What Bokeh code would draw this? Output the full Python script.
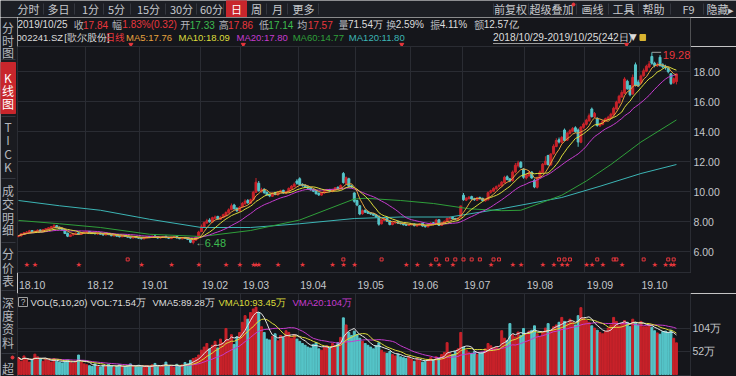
import numpy as np
import pandas as pd
from bokeh.plotting import figure
from bokeh.models import ColumnDataSource, Range1d, FixedTicker, NumeralTickFormatter
from bokeh.layouts import column, row
from bokeh.embed import file_html
from bokeh.resources import INLINE

# ======================= data =======================
stock_code = "002241.SZ"
stock_name = "[歌尔股份]"
start_date = "2018/10/29"
end_date = "2019/10/25"
avg_price = 17.57
turnover_rate = "2.59%"
amount = "12.57亿"

month_labels = ["18.10", "18.12", "19.01", "19.02", "19.03", "19.04", "19.05",
                "19.06", "19.07", "19.08", "19.09", "19.10"]
month_starts = [0, 25, 45, 67, 82, 103, 124, 144, 163, 186, 208, 228]

opens = [
    7.00, 7.04, 7.16,
    7.26, 7.30, 7.40, 7.30, 7.35, 7.44, 7.34, 7.44, 7.50, 7.56, 7.64, 7.72, 7.62, 7.55, 7.48, 7.22, 7.00, 7.10, 7.16, 7.24, 7.14, 7.24,
    7.28, 7.34, 7.26, 7.22, 7.16, 7.24, 7.16, 7.10, 7.20, 7.14, 7.04, 7.10, 7.04, 6.98, 7.06, 7.02, 6.96, 6.90, 7.00, 6.94,
    6.90, 6.84, 6.92, 7.00, 6.94, 7.04, 6.98, 6.90, 6.94, 7.02, 6.94, 6.86, 6.94, 7.00, 6.92, 6.84, 6.94, 6.90, 6.82, 6.60, 6.76, 6.98,
    7.32, 7.62, 7.90, 8.10, 7.96, 8.22, 8.34, 8.15, 8.26, 8.40, 8.58, 8.80, 9.10, 8.88, 8.70,
    8.98, 9.18, 9.40, 9.22, 9.45, 9.95, 10.55, 10.00, 10.15, 9.95, 9.80, 9.68, 9.92, 9.78, 9.96, 10.08, 9.88, 9.98, 10.18, 10.32, 10.70,
    10.85, 10.48, 10.42, 10.32, 10.24, 10.14, 10.05, 9.88, 9.76, 9.90, 10.04, 10.12, 10.00, 10.10, 10.28, 10.18, 11.20, 10.55, 10.85, 10.38, 9.90,
    9.40, 9.05, 8.52, 8.75, 8.65, 8.58, 8.52, 8.45, 8.35, 7.85, 8.08, 8.22, 8.05, 7.80, 7.90, 7.98, 7.90, 7.86, 7.80, 7.74,
    7.78, 7.84, 7.70, 7.76, 7.88, 7.72, 7.64, 7.76, 7.92, 7.86, 8.12, 7.74, 7.88, 8.00, 8.18, 8.28, 8.20, 8.14, 8.30,
    9.75, 9.42, 9.52, 9.66, 9.52, 9.42, 9.60, 9.55, 9.38, 9.45, 9.95, 10.02, 10.18, 10.35, 10.38, 10.60, 10.98, 10.84, 10.72, 11.30, 11.72, 11.95, 11.50,
    10.90, 11.05, 11.30, 10.75, 10.28, 10.95, 11.28, 11.80, 12.40, 11.78, 12.52, 13.00, 13.45, 13.28, 14.10, 13.42, 13.88, 14.02, 14.25, 14.10, 13.28, 14.28,
    14.48, 14.72, 15.50, 14.98, 14.85, 14.38, 14.48, 14.68, 14.82, 14.92, 15.12, 15.50, 15.92, 16.30, 16.55, 17.35, 17.05, 16.50, 18.45, 17.30,
    17.25, 17.72, 18.02, 18.30, 19.00, 18.55, 18.38, 18.95, 18.45, 18.35, 18.22, 17.85, 17.25, 17.33,
]
highs = [
    7.10, 7.22, 7.30,
    7.36, 7.44, 7.42, 7.40, 7.48, 7.46, 7.50, 7.56, 7.62, 7.70, 7.82, 7.76, 7.66, 7.58, 7.50, 7.26, 7.14, 7.22, 7.28, 7.28, 7.28, 7.34,
    7.38, 7.36, 7.30, 7.25, 7.26, 7.26, 7.20, 7.22, 7.22, 7.16, 7.12, 7.12, 7.06, 7.08, 7.08, 7.04, 6.98, 7.02, 7.02, 6.96,
    6.94, 6.96, 7.02, 7.04, 7.06, 7.08, 7.00, 6.98, 7.04, 7.04, 6.98, 6.98, 7.02, 7.02, 6.94, 6.95, 6.96, 6.92, 6.84, 6.80, 7.02, 7.38,
    7.80, 8.00, 8.18, 8.22, 8.32, 8.40, 8.38, 8.35, 8.52, 8.68, 8.88, 9.20, 9.18, 8.95, 9.02,
    9.30, 9.48, 9.50, 9.52, 10.05, 10.90, 10.70, 10.25, 10.22, 10.00, 9.86, 9.95, 9.98, 10.02, 10.12, 10.12, 10.05, 10.28, 10.42, 10.60, 10.82,
    10.95, 10.55, 10.48, 10.38, 10.30, 10.20, 10.10, 9.94, 9.98, 10.10, 10.18, 10.18, 10.18, 10.30, 10.34, 10.48, 11.30, 11.00, 10.92, 10.45, 9.95,
    9.45, 9.10, 8.80, 8.80, 8.70, 8.62, 8.56, 8.50, 8.40, 8.15, 8.28, 8.26, 8.08, 7.96, 8.00, 8.02, 7.94, 7.90, 7.84, 7.84,
    7.88, 7.86, 7.82, 7.90, 7.92, 7.76, 7.82, 7.95, 7.96, 8.18, 8.15, 7.94, 8.06, 8.26, 8.32, 8.32, 8.24, 8.26, 9.04,
    9.90, 9.62, 9.70, 9.72, 9.58, 9.64, 9.66, 9.58, 9.55, 10.00, 10.12, 10.28, 10.40, 10.52, 10.70, 11.05, 11.08, 10.90, 11.40, 11.90, 12.05, 12.02, 11.55,
    11.20, 11.40, 11.35, 10.85, 11.00, 11.40, 11.90, 12.35, 12.45, 12.55, 13.15, 13.55, 13.60, 13.70, 14.20, 13.95, 14.15, 14.30, 14.35, 14.20, 14.35, 14.60,
    14.85, 15.20, 15.60, 15.30, 14.95, 14.60, 14.78, 14.92, 15.05, 15.25, 15.65, 16.05, 16.45, 16.75, 17.62, 17.45, 17.10, 17.80, 18.60, 17.45,
    17.80, 18.20, 18.45, 18.70, 19.28, 18.65, 18.60, 19.10, 18.55, 18.45, 18.30, 17.90, 17.60, 17.86,
]
lows = [
    6.95, 7.00, 7.12,
    7.22, 7.28, 7.26, 7.26, 7.32, 7.32, 7.30, 7.40, 7.46, 7.52, 7.60, 7.56, 7.48, 7.40, 7.16, 6.96, 6.96, 7.06, 7.12, 7.12, 7.10, 7.20,
    7.24, 7.22, 7.16, 7.14, 7.12, 7.12, 7.06, 7.08, 7.10, 7.02, 7.00, 7.00, 6.94, 6.96, 6.98, 6.92, 6.86, 6.88, 6.90, 6.84,
    6.80, 6.82, 6.88, 6.92, 6.90, 6.94, 6.86, 6.86, 6.92, 6.90, 6.84, 6.84, 6.90, 6.88, 6.82, 6.82, 6.84, 6.76, 6.56, 6.48, 6.72, 6.96,
    7.30, 7.58, 7.85, 7.92, 7.94, 8.16, 8.12, 8.10, 8.22, 8.36, 8.52, 8.75, 8.80, 8.62, 8.66,
    8.92, 9.12, 9.18, 9.18, 9.40, 9.90, 10.00, 9.92, 9.85, 9.72, 9.62, 9.64, 9.75, 9.72, 9.90, 9.85, 9.82, 9.94, 10.12, 10.28, 10.45,
    10.38, 10.32, 10.25, 10.15, 10.06, 9.96, 9.80, 9.70, 9.72, 9.86, 10.00, 9.96, 9.95, 10.05, 10.12, 10.12, 10.52, 10.50, 10.25, 10.22, 9.25,
    9.02, 8.42, 8.45, 8.58, 8.50, 8.44, 8.38, 8.26, 7.72, 7.80, 8.02, 7.98, 7.74, 7.75, 7.86, 7.84, 7.80, 7.74, 7.70, 7.70,
    7.74, 7.68, 7.66, 7.72, 7.66, 7.60, 7.62, 7.72, 7.80, 7.84, 7.70, 7.70, 7.85, 7.98, 8.14, 8.14, 8.10, 8.10, 8.28,
    9.38, 9.36, 9.48, 9.45, 9.38, 9.38, 9.46, 9.34, 9.32, 9.40, 9.85, 9.96, 10.12, 10.26, 10.32, 10.55, 10.74, 10.62, 10.66, 11.22, 11.60, 11.55, 10.85,
    10.80, 10.98, 10.85, 10.22, 10.20, 10.90, 11.22, 11.75, 11.72, 11.70, 12.45, 12.95, 13.20, 13.20, 13.35, 13.38, 13.80, 13.95, 13.92, 12.98, 13.22, 14.18,
    14.40, 14.65, 14.92, 14.90, 14.32, 14.30, 14.42, 14.62, 14.75, 14.85, 15.05, 15.45, 15.85, 16.25, 16.50, 16.78, 16.35, 16.45, 17.00, 16.98,
    17.15, 17.65, 17.95, 18.22, 18.45, 18.28, 18.30, 18.32, 18.20, 18.12, 17.88, 17.10, 17.18, 17.14,
]
closes = [
    7.05, 7.18, 7.25,
    7.30, 7.38, 7.30, 7.36, 7.42, 7.35, 7.45, 7.52, 7.58, 7.65, 7.72, 7.60, 7.52, 7.45, 7.20, 7.02, 7.10, 7.18, 7.22, 7.15, 7.25, 7.28,
    7.32, 7.25, 7.20, 7.18, 7.22, 7.15, 7.10, 7.18, 7.12, 7.05, 7.08, 7.02, 6.98, 7.05, 7.00, 6.95, 6.90, 6.98, 6.92, 6.88,
    6.85, 6.92, 6.98, 6.95, 7.02, 6.98, 6.90, 6.95, 7.00, 6.92, 6.88, 6.95, 6.98, 6.90, 6.85, 6.92, 6.88, 6.80, 6.62, 6.75, 6.98, 7.30,
    7.65, 7.92, 8.05, 7.98, 8.25, 8.30, 8.18, 8.28, 8.45, 8.60, 8.78, 9.05, 8.85, 8.72, 8.95,
    9.20, 9.35, 9.25, 9.45, 9.95, 10.62, 10.05, 10.12, 9.92, 9.78, 9.70, 9.88, 9.80, 9.95, 10.05, 9.90, 9.98, 10.20, 10.35, 10.48, 10.55,
    10.45, 10.40, 10.30, 10.22, 10.12, 10.02, 9.85, 9.78, 9.92, 10.05, 10.10, 10.02, 10.12, 10.25, 10.20, 10.40, 10.60, 10.92, 10.35, 10.30, 9.35,
    9.10, 8.50, 8.72, 8.62, 8.55, 8.50, 8.42, 8.30, 7.82, 8.10, 8.20, 8.02, 7.80, 7.92, 7.95, 7.88, 7.85, 7.78, 7.75, 7.80,
    7.82, 7.72, 7.78, 7.85, 7.70, 7.65, 7.78, 7.90, 7.85, 8.10, 7.75, 7.90, 8.02, 8.20, 8.25, 8.18, 8.15, 8.22, 9.04,
    9.45, 9.55, 9.62, 9.50, 9.45, 9.58, 9.52, 9.40, 9.48, 9.92, 10.05, 10.20, 10.32, 10.40, 10.62, 10.95, 10.80, 10.70, 11.30, 11.75, 11.90, 11.62, 10.95,
    11.10, 11.28, 10.90, 10.30, 10.92, 11.30, 11.82, 12.02, 11.80, 12.50, 13.02, 13.40, 13.30, 13.60, 13.40, 13.90, 14.05, 14.20, 14.00, 13.30, 14.30, 14.50,
    14.75, 15.05, 15.00, 15.20, 14.40, 14.50, 14.70, 14.85, 14.95, 15.15, 15.55, 15.95, 16.35, 16.60, 17.50, 16.85, 16.45, 17.60, 17.10, 17.05,
    17.70, 18.05, 18.35, 18.50, 18.55, 18.40, 18.45, 18.40, 18.30, 18.25, 17.99, 17.20, 17.52, 17.84,
]
# volume in 万
volumes = [
    38, 30, 42,
    35, 28, 33, 46, 40, 36, 30, 34, 32, 28, 36, 30, 28, 26, 30, 33, 28, 25, 30, 44, 28, 24,
    22, 20, 18, 24, 19, 17, 21, 18, 23, 20, 16, 19, 22, 18, 17, 20, 24, 19, 18, 21,
    18, 16, 20, 17, 22, 25, 19, 17, 21, 28, 20, 18, 16, 23, 19, 22, 27, 24, 32, 36, 38, 44,
    55, 62, 70, 58, 66, 75, 60, 80, 72, 104, 78, 90, 68, 85, 95,
    118, 133, 125, 140, 148, 152, 140, 108, 95, 80, 78, 86, 92, 76, 88, 84, 99, 95, 82, 90, 80,
    75, 70, 66, 62, 60, 68, 72, 58, 55, 62, 65, 60, 70, 66, 72, 84, 128, 112, 95, 88, 98,
    90, 82, 75, 70, 66, 62, 58, 65, 72, 55, 50, 48, 52, 45, 42, 46, 40, 38, 36, 40,
    34, 30, 36, 32, 28, 30, 34, 38, 33, 40, 36, 45, 50, 72, 48, 45, 52, 58, 95,
    62, 55, 50, 48, 52, 45, 48, 50, 58, 70, 65, 60, 62, 58, 99, 82, 77, 115, 90, 85, 96, 88, 104,
    92, 98, 100, 110, 92, 86, 95, 105, 115, 100, 108, 112, 118, 129, 120, 115, 125, 118, 112, 133, 151, 127,
    122, 118, 110, 105, 100, 95, 92, 98, 105, 112, 129, 120, 110, 115, 122, 118, 108, 125, 118, 112,
    120, 108, 108, 112, 107, 99, 94, 91, 97.1, 98, 95, 100, 81.85, 71.54,
]

# long moving averages (they need history before the window)
ma60_days = [0, 15, 30, 48, 67, 85, 103, 123, 127, 140, 152, 165, 177, 184, 199, 208, 217, 228, 241]
ma60_vals = [8.07, 7.85, 7.60, 7.15, 7.00, 7.40, 8.10, 9.50, 9.55, 9.40, 9.20, 8.85, 8.72, 8.75, 9.75, 10.70, 11.80, 13.30, 14.77]
ma120_days = [0, 15, 30, 48, 67, 85, 103, 123, 140, 158, 177, 199, 213, 228, 241]
ma120_vals = [9.40, 9.05, 8.75, 8.15, 7.60, 7.60, 7.85, 8.20, 8.30, 8.30, 8.85, 9.60, 10.35, 11.20, 11.80]

star_days = [3, 6, 22, 45, 56, 66, 76, 81, 86, 87, 88, 95, 104, 115, 119, 123, 142, 146, 151, 154,
             159, 173, 181, 184, 192, 196, 199, 201, 208, 210, 214, 221, 233, 237, 239, 240]
flag_days = [40, 119, 133, 153, 157, 160, 163, 166, 169, 174, 176, 198, 200, 202, 212, 218, 219, 229, 238, 240]
event_days = [44, 88, 150, 238]

price_ticks = [6, 8, 10, 12, 14, 16, 18]
vol_ticks = [52, 104]

# ======================= style =======================
BG = "#15161b"
BAR_BG = "#1c1e24"
SIDE_BG = "#1a1b20"
GRID = "#2a2c33"
SEP = "#34373f"
TXT = "#b4b7bd"
WHITE = "#dcdcdc"
RED = "#e8373d"
TAB_RED = "#c8262c"
C_UP = "#c8222a"
C_DN = "#55c4c8"
GREEN = "#3dbb4f"
C5, C10, C20, C60, C120 = "#e6a23e", "#dcdc3c", "#c63ccf", "#2f9f3a", "#3cb5b5"
CJK = "Noto Sans CJK SC"
LAT = "Liberation Sans"


def pick_font(s):
    return CJK if all(ord(ch) > 0x2E80 for ch in s) else LAT


def add_text(fig, xs, ys, texts, colors, size="10px", align="left", font=None, baseline="middle"):
    fonts = [font or pick_font(t) for t in texts]
    src = ColumnDataSource(dict(x=list(xs), y=list(ys), t=list(texts), c=list(colors), f=fonts))
    fig.text(x="x", y="y", text="t", text_color="c", text_font="f", source=src,
             text_font_size=size, text_align=align, text_baseline=baseline)


def chrome_fig(w, h, xr, yr, bg):
    f = figure(width=w, height=h, x_range=xr, y_range=yr, output_backend="svg", toolbar_location=None,
               x_axis_location=None, y_axis_location=None, min_border=0,
               background_fill_color=bg, border_fill_color=bg, outline_line_color=None)
    f.grid.grid_line_color = None
    return f


# ======================= derived =======================
N = len(closes)
days = list(range(N))
cs = pd.Series(closes)
ma5 = cs.rolling(5, min_periods=1).mean()
ma10 = cs.rolling(10, min_periods=1).mean()
ma20 = cs.rolling(20, min_periods=1).mean()
vs = pd.Series(volumes)
vma5 = vs.rolling(5, min_periods=1).mean()
vma10 = vs.rolling(10, min_periods=1).mean()
vma20 = vs.rolling(20, min_periods=1).mean()
chg = closes[-1] - closes[-2]
pct = chg / closes[-2] * 100
amp = (highs[-1] - lows[-1]) / closes[-2] * 100


def vfmt(v):
    return f"{v:.0f}" if v >= 100 else f"{v:.2f}"


# pixel layout of the picture (px -> day index)
PX_DAY, X0 = 2.73, 18.0


def day_to_px(d):
    return X0 + PX_DAY * d


def px_to_day(px):
    return (px - X0) / PX_DAY


# ======================= top tab bar =======================
top = chrome_fig(736, 17, Range1d(0, 736), Range1d(17, 0), BAR_BG)
top.quad(left=[226], right=[246], top=[0], bottom=[17], color=TAB_RED)
tabs_l = ["分时", "多日", "1分", "5分", "15分", "30分", "60分", "日", "周", "月", "更多"]
tabs_lx = [28, 58, 90, 116, 148, 181, 211, 236, 256, 277, 303]
tabs_r = ["前复权", "超级叠加", "画线", "工具", "帮助", "F9", "隐藏▸"]
tabs_rx = [510, 551, 592, 623, 653, 688, 720]
seps = [43, 74, 103, 130, 165, 196, 223, 266, 287, 318, 493, 528, 576, 608, 638, 670, 703]
top.segment(x0=seps, y0=[3] * len(seps), x1=seps, y1=[14] * len(seps), color=SEP, line_width=1)
add_text(top, tabs_lx + tabs_rx, [8.5] * (len(tabs_lx) + len(tabs_rx)), tabs_l + tabs_r,
         ["#ffffff" if t == "日" else "#c6c8cc" for t in tabs_l] + ["#c6c8cc"] * len(tabs_r),
         size="11px", align="center", font=CJK)
top.scatter(x=[573], y=[4], size=3, color=RED)

# ======================= side bar =======================
side = chrome_fig(17, 359, Range1d(0, 17), Range1d(376, 17), SIDE_BG)
side.quad(left=[0], right=[15], top=[62], bottom=[113], color=TAB_RED)
side_chars = ["分", "时", "图", "K", "线", "图", "T", "I", "C", "K", "成", "交", "明", "细",
              "分", "价", "表", "深", "度", "资", "料", "超"]
side_y = [27, 40, 52, 77, 90, 103, 126, 139, 153, 166, 190, 203, 217, 229, 253, 267, 280, 302, 315, 328, 342, 368]
side_col = [TXT] * 3 + ["#ffffff"] * 3 + [TXT] * 16
add_text(side, [7.5] * len(side_chars), side_y, side_chars, side_col, size="12px", align="center", font=CJK)
hs = [59, 116, 178, 242, 290, 353]
side.segment(x0=[1] * len(hs), y0=hs, x1=[15] * len(hs), y1=hs, color=SEP)
side.scatter(x=[12], y=[357], size=3, color=RED)

# ======================= info rows =======================
info = chrome_fig(719, 29, Range1d(17, 736), Range1d(46, 17), BG)
r1 = [
    (17, end_date, WHITE),
    (77, "收", TXT), (87, f"{closes[-1]:.2f}", RED),
    (118, "幅", TXT), (129, f"{pct:.2f}%({chg:.2f})", RED),
    (191, "开", TXT), (201, f"{opens[-1]:.2f}", GREEN),
    (232, "高", TXT), (242, f"{highs[-1]:.2f}", RED),
    (275, "低", TXT), (285, f"{lows[-1]:.2f}", GREEN),
    (316, "均", TXT), (327, f"{avg_price:.2f}", RED),
    (360, "量", TXT), (370, f"{vfmt(volumes[-1])}万", WHITE),
    (411, "换", TXT), (421, turnover_rate, WHITE),
    (458, "振", TXT), (468, f"{amp:.2f}%", WHITE),
    (505, "额", TXT), (515, amount, WHITE),
]
add_text(info, [a for a, _, _ in r1], [24] * len(r1), [b for _, b, _ in r1], [c for _, _, c in r1],
         size="10px")
r2 = [
    (16, stock_code, WHITE), (67, stock_name, WHITE), (111, "日线", RED),
    (133, f"MA5:{ma5.iloc[-1]:.2f}", C5), (189, f"MA10:{ma10.iloc[-1]:.2f}", C10),
    (251, f"MA20:{ma20.iloc[-1]:.2f}", C20), (311, f"MA60:{ma60_vals[-1]:.2f}", C60),
    (371, f"MA120:{ma120_vals[-1]:.2f}", C120),
]
add_text(info, [a for a, _, _ in r2], [36.5] * len(r2), [b for _, b, _ in r2], [c for _, _, c in r2],
         size="9.5px")
add_text(info, [525], [36.5], [f"{start_date}-{end_date}({N}日)"], [WHITE], size="10.2px")
add_text(info, [671], [36.5], ["▼"], [WHITE], size="9px", font="DejaVu Sans")
info.segment(x0=[525], y0=[43], x1=[666], y1=[43], color="#9a9a9a")
info.quad(left=[682], right=[688], top=[34], bottom=[40], color="#d9b431")
ev_x = [day_to_px(d) for d in event_days]
info.scatter(x=ev_x, y=[44] * len(ev_x), marker="inverted_triangle", size=4, color=RED)

# ======================= main K-line chart =======================
xr = Range1d(px_to_day(17), px_to_day(690))
main = figure(width=719, height=247, x_range=xr, y_range=Range1d(4.6, 19.667),
              output_backend="svg", toolbar_location=None, y_axis_location="right",
              min_border_left=0, min_border_right=46, min_border_top=0, min_border_bottom=21,
              background_fill_color=BG, border_fill_color=BG, outline_line_color=GRID)
grid_ticks = [s - 0.5 for s in month_starts[1:]]
main.xgrid.ticker = FixedTicker(ticks=grid_ticks)
main.ygrid.ticker = FixedTicker(ticks=price_ticks)
main.grid.grid_line_color = GRID
lab_ticks = [s + 5 for s in month_starts]
main.xaxis.ticker = FixedTicker(ticks=lab_ticks)
main.xaxis.major_label_overrides = {t: l for t, l in zip(lab_ticks, month_labels)}
main.yaxis.ticker = FixedTicker(ticks=price_ticks)
main.yaxis.formatter = NumeralTickFormatter(format="0.00")
for ax in (main.xaxis, main.yaxis):
    ax.axis_line_color = None
    ax.major_tick_line_color = None
    ax.minor_tick_line_color = None
    ax.major_tick_in = 0
    ax.major_tick_out = 0
    ax.minor_tick_in = 0
    ax.minor_tick_out = 0
    ax.major_label_text_color = "#c4c6ca"
    ax.major_label_text_font = LAT
    ax.major_label_text_font_size = "10.5px"
main.yaxis.major_label_standoff = 3
main.xaxis.major_label_standoff = 8

up = [c >= o for o, c in zip(opens, closes)]
src = ColumnDataSource(dict(
    x=days, o=opens, h=highs, l=lows, c=closes,
    top=[max(o, c) for o, c in zip(opens, closes)],
    bot=[min(o, c) for o, c in zip(opens, closes)],
    col=[C_UP if u else C_DN for u in up], v=volumes))
main.segment(x0="x", y0="l", x1="x", y1="h", color="col", source=src, line_width=1)
main.vbar(x="x", width=0.72, top="top", bottom="bot", fill_color="col", line_color="col", source=src)

main.line(ma120_days, ma120_vals, color=C120, line_width=1)
main.line(ma60_days, ma60_vals, color=C60, line_width=1)
main.line(days, ma20, color=C20, line_width=1)
main.line(days, ma10, color=C10, line_width=1)
main.line(days, ma5, color=C5, line_width=1)

# high / low annotations
hi_i = int(np.argmax(highs))
lo_i = int(np.argmin(lows))
main.segment(x0=[hi_i], y0=[highs[hi_i]], x1=[hi_i + 3.4], y1=[highs[hi_i]], color="#a0a0a0")
add_text(main, [hi_i + 4], [highs[hi_i] - 0.2], [f"{highs[hi_i]:.2f}"], [RED], size="11px", font=LAT)
add_text(main, [lo_i + 0.8], [lows[lo_i] + 0.1], ["←"], ["#8fbf8f"], size="10px", font=LAT)
add_text(main, [lo_i + 4.2], [lows[lo_i] + 0.12], [f"{lows[lo_i]:.2f}"], [GREEN], size="11px", font=LAT)

# event rows
STAR_Y, FLAG_Y = 5.13, 5.47
add_text(main, star_days, [STAR_Y] * len(star_days), ["★"] * len(star_days), [RED] * len(star_days),
         size="7px", align="center", font="DejaVu Sans")
main.scatter(x=flag_days, y=[FLAG_Y] * len(flag_days), marker="square", size=3,
             fill_color=None, line_color=RED, line_width=1)

# ======================= volume chart =======================
VOL_PER_PX, VOL_ZERO_PX = 2.26, 374.0


def vol_y(px):
    return (VOL_ZERO_PX - px) * VOL_PER_PX


vol = figure(width=719, height=83, x_range=xr, y_range=Range1d(vol_y(376), vol_y(293)),
             output_backend="svg", toolbar_location=None, y_axis_location="right", x_axis_location=None,
             min_border_left=0, min_border_right=46, min_border_top=0, min_border_bottom=0,
             background_fill_color=BG, border_fill_color=BG, outline_line_color=GRID)
vol.xgrid.ticker = FixedTicker(ticks=grid_ticks)
vol.ygrid.ticker = FixedTicker(ticks=vol_ticks)
vol.grid.grid_line_color = GRID
vol.yaxis.ticker = FixedTicker(ticks=vol_ticks)
vol.yaxis.major_label_overrides = {t: f"{t}万" for t in vol_ticks}
vol.yaxis.axis_line_color = None
vol.yaxis.major_tick_line_color = None
vol.yaxis.minor_tick_line_color = None
vol.yaxis.major_tick_in = 0
vol.yaxis.major_tick_out = 0
vol.yaxis.minor_tick_in = 0
vol.yaxis.minor_tick_out = 0
vol.yaxis.major_label_text_color = "#c4c6ca"
vol.yaxis.major_label_text_font = LAT
vol.yaxis.major_label_text_font_size = "10.5px"
vol.yaxis.major_label_standoff = 2

vol.vbar(x="x", width=0.72, top="v", bottom=0, fill_color="col", line_color="col", source=src)
vol.line(days, vma20, color=C20, line_width=1)
vol.line(days, vma10, color=C10, line_width=1)
vol.line(days, vma5, color="#e4e4e4", line_width=1)

hy = vol_y(301.5)
vol.rect(x=[px_to_day(22.5)], y=[hy], width=9, height=9, width_units="screen", height_units="screen",
         fill_color=None, line_color="#a0a0a0")
add_text(vol, [px_to_day(22.5)], [hy], ["?"], [TXT], size="8.5px", align="center", font=LAT)
vh = [
    (30, "VOL(5,10,20)", WHITE),
    (90, f"VOL:{vfmt(volumes[-1])}万", WHITE),
    (152, f"VMA5:{vfmt(vma5.iloc[-1])}万", WHITE),
    (218, f"VMA10:{vfmt(vma10.iloc[-1])}万", C10),
    (292, f"VMA20:{vfmt(vma20.iloc[-1])}万", C20),
]
add_text(vol, [px_to_day(a) for a, _, _ in vh], [hy] * len(vh), [b for _, b, _ in vh], [c for _, _, c in vh],
         size="9.5px")

layout = column(top, row(side, column(info, main, vol)))
open("out.html", "w").write(file_html(layout, INLINE))
